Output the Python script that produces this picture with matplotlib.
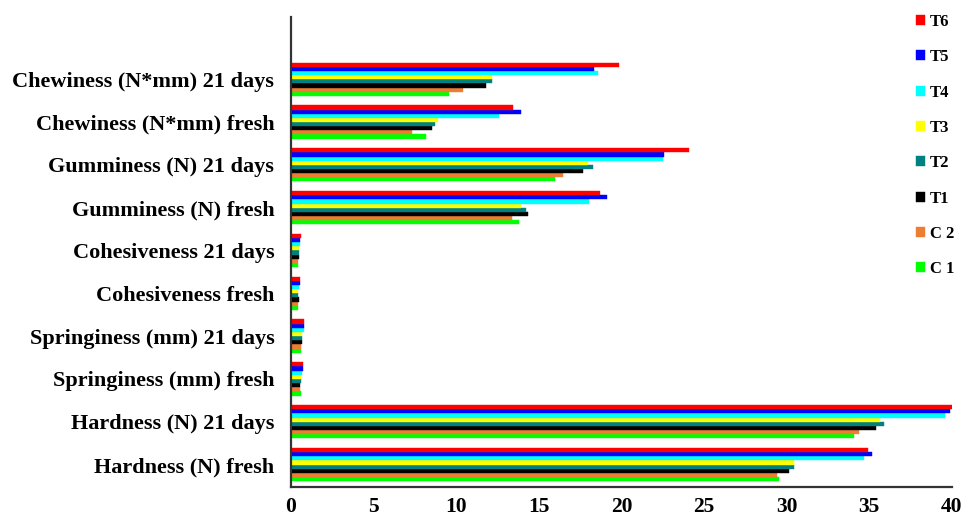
import numpy as np
import matplotlib.pyplot as plt

plt.rcParams['font.family'] = ['Liberation Serif', 'DejaVu Serif']
plt.rcParams['font.weight'] = 'bold'

categories = ['Hardness (N) fresh', 'Hardness (N) 21 days',
              'Springiness (mm) fresh', 'Springiness (mm) 21 days',
              'Cohesiveness fresh', 'Cohesiveness 21 days',
              'Gumminess (N) fresh', 'Gumminess (N) 21 days',
              'Chewiness (N*mm) fresh', 'Chewiness (N*mm) 21 days']

c1 = [29.54, 34.07, 0.60, 0.60, 0.45, 0.45, 13.78, 15.98, 8.18, 9.58]
c2 = [29.40, 34.40, 0.57, 0.60, 0.45, 0.45, 13.39, 16.48, 7.33, 10.38]
t1 = [30.17, 35.40, 0.57, 0.65, 0.47, 0.50, 14.34, 17.68, 8.55, 11.80]
t2 = [30.43, 35.90, 0.60, 0.67, 0.45, 0.48, 14.20, 18.26, 8.73, 12.18]
t3 = [30.43, 35.65, 0.63, 0.65, 0.45, 0.48, 13.90, 17.96, 8.89, 12.16]
t4 = [34.70, 39.60, 0.68, 0.80, 0.50, 0.55, 18.06, 22.50, 12.59, 18.56]
t5 = [35.15, 39.90, 0.70, 0.78, 0.53, 0.55, 19.15, 22.55, 13.94, 18.36]
t6 = [34.90, 40.00, 0.70, 0.80, 0.53, 0.60, 18.71, 24.06, 13.41, 19.84]

series = [('C 1', c1, '#00FF00'), ('C 2', c2, '#ED7D31'),
          ('T1', t1, '#000000'), ('T2', t2, '#008080'),
          ('T3', t3, '#FFFF00'), ('T4', t4, '#00FFFF'),
          ('T5', t5, '#0000FF'), ('T6', t6, '#FF0000')]

fig = plt.figure(figsize=(9.62, 5.19), dpi=100)
ax = fig.add_axes([0.3025, 0.062, 0.687, 0.905])

y = np.arange(len(categories))
h = 0.097
n = len(series)
for i, (name, vals, col) in enumerate(series):
    ax.barh(y + (i - (n - 1) / 2) * h, vals, height=h, color=col,
            label=name, edgecolor=col, linewidth=0.3)

ax.set_yticks(y)
ax.set_yticklabels(categories, fontsize=16, fontweight='bold')
ax.set_xlim(0, 40)
ax.set_xticks(np.arange(0, 41, 5))
ax.tick_params(axis='x', labelsize=15.5, length=0, pad=7)
ax.tick_params(axis='y', length=0, pad=12)
ax.set_ylim(-0.52, 10.45)
for s in ['top', 'right']:
    ax.spines[s].set_visible(False)
ax.spines['left'].set_linewidth(1.6)
ax.spines['left'].set_color('#333333')
ax.spines['bottom'].set_linewidth(1.6)
ax.spines['bottom'].set_color('#333333')

handles, labels = ax.get_legend_handles_labels()
fig.legend(handles[::-1], labels[::-1], loc='upper left',
           bbox_to_anchor=(0.945, 0.986), frameon=False,
           prop={'weight': 'bold', 'size': 12},
           handlelength=0.55, handleheight=0.55, handletextpad=0.3,
           labelspacing=1.16, borderaxespad=0)

fig.savefig('out.png', dpi=100)
